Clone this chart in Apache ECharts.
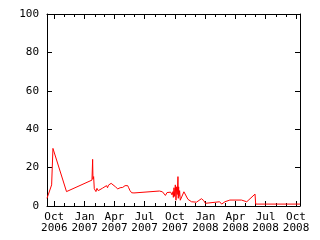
<!DOCTYPE html>
<html><head><meta charset="utf-8">
<script src="https://cdn.jsdelivr.net/npm/echarts@6/dist/echarts.min.js"></script>
<style>html,body{margin:0;padding:0;background:#fff}#c{width:320px;height:240px}</style>
</head><body><div id="c"></div>
<script>
var dates = ['2006-09-09','2006-09-23','2006-09-26','2006-09-27','2006-11-07','2007-01-23','2007-01-24','2007-01-25','2007-01-26','2007-01-28','2007-01-30','2007-02-01','2007-02-04','2007-02-07','2007-02-11','2007-02-14','2007-02-24','2007-03-08','2007-03-11','2007-03-14','2007-03-22','2007-03-27','2007-04-04','2007-04-11','2007-04-18','2007-04-26','2007-05-03','2007-05-11','2007-05-14','2007-05-18','2007-05-23','2007-05-26','2007-05-28','2007-05-30','2007-06-03','2007-08-15','2007-08-24','2007-09-02','2007-09-07','2007-09-18','2007-09-22','2007-09-25','2007-09-26','2007-09-28','2007-09-30','2007-10-02','2007-10-04','2007-10-06','2007-10-08','2007-10-10','2007-10-11','2007-10-12','2007-10-13','2007-10-15','2007-10-17','2007-10-20','2007-10-28','2007-11-09','2007-11-20','2007-12-05','2007-12-20','2007-12-27','2008-01-01','2008-01-02','2008-02-13','2008-02-19','2008-02-29','2008-03-15','2008-04-19','2008-04-24','2008-05-05','2008-05-30','2008-06-01','2008-10-13'];
var values = [4,11,12,30,7.5,13.5,14.5,24.3,14,15.3,9,10,7.5,9.2,8,8.7,9.3,10.6,9.5,10.9,11.8,11.5,10,8.9,9.5,9.7,10.6,10.6,9.5,8,6.9,6.1,7.5,6.8,7.8,7.8,7.4,5.5,7,7.2,5.8,7.5,4.5,9.5,5,11,3,10,6,15.3,4,10,5,8,3,2.2,7.4,3.5,2.2,2,3.8,2.8,1.4,2.2,2.2,1,2.2,3.1,3.1,2.2,2.2,6.2,1,1];
var tickDates = ['2006-10-01','2007-01-01','2007-04-01','2007-07-01','2007-10-01','2008-01-01','2008-04-01','2008-07-01','2008-10-01'];
var tickLabels = ['Oct\n2006','Jan\n2007','Apr\n2007','Jul\n2007','Oct\n2007','Jan\n2008','Apr\n2008','Jul\n2008','Oct\n2008'];
var minorDates = ['2006-10-01','2006-11-01','2006-12-01','2007-01-01','2007-02-01','2007-03-01','2007-04-01','2007-05-01','2007-06-01','2007-07-01','2007-08-01','2007-09-01','2007-10-01','2007-11-01','2007-12-01','2008-01-01','2008-02-01','2008-03-01','2008-04-01','2008-05-01','2008-06-01','2008-07-01','2008-08-01','2008-09-01','2008-10-01'];
var yTicks = [0,20,40,60,80,100];

function ts(s){var p=s.split('-');return Date.UTC(+p[0],+p[1]-1,+p[2]);}
var minT = ts(dates[0]), maxT = ts(dates[dates.length-1]);
var majorT = tickDates.map(ts), minorT = minorDates.map(ts);
var F = '"DejaVu Sans Mono", monospace';
function xAx(pos, vals, len, showLabel, showLine){
  return {type:'value', position:pos, min:minT, max:maxT, scale:true,
    axisLine:{show:showLine, onZero:false, lineStyle:{color:'#000', width:1}},
    axisTick:{show:true, inside:true, length:len, customValues:vals, lineStyle:{color:'#000', width:1}},
    axisLabel:{show:showLabel, customValues:majorT, color:'#000', fontFamily:F, fontSize:11, lineHeight:11, margin:6,
      formatter:function(v){var i=majorT.indexOf(v);return i>=0?tickLabels[i]:'';}},
    splitLine:{show:false}};
}
var chart = echarts.init(document.getElementById('c'), null, {renderer:'canvas'});
chart.setOption({
  animation:false,
  grid:{left:47, right:20, top:14, bottom:34, containLabel:false},
  xAxis:[xAx('bottom', majorT, 5, true, true), xAx('bottom', minorT, 3, false, false),
         xAx('top', majorT, 5, false, true), xAx('top', minorT, 3, false, false)],
  yAxis:[
    {type:'value', position:'left', min:0, max:100, interval:20,
     axisLine:{show:true, lineStyle:{color:'#000', width:1}},
     axisTick:{show:true, inside:true, length:5, customValues:yTicks, lineStyle:{color:'#000'}},
     axisLabel:{color:'#000', fontFamily:F, fontSize:11, margin:8},
     splitLine:{show:false}},
    {type:'value', position:'right', min:0, max:100, interval:20,
     axisLine:{show:true, lineStyle:{color:'#000', width:1}},
     axisTick:{show:true, inside:true, length:5, lineStyle:{color:'#000'}},
     axisLabel:{show:false}, splitLine:{show:false}}
  ],
  series:[{type:'line', xAxisIndex:0, yAxisIndex:0, showSymbol:false, symbol:'none',
    lineStyle:{color:'#ff0000', width:1}, itemStyle:{color:'#ff0000'},
    data: dates.map(function(d,i){return [ts(d), values[i]];})}]
});
</script></body></html>
